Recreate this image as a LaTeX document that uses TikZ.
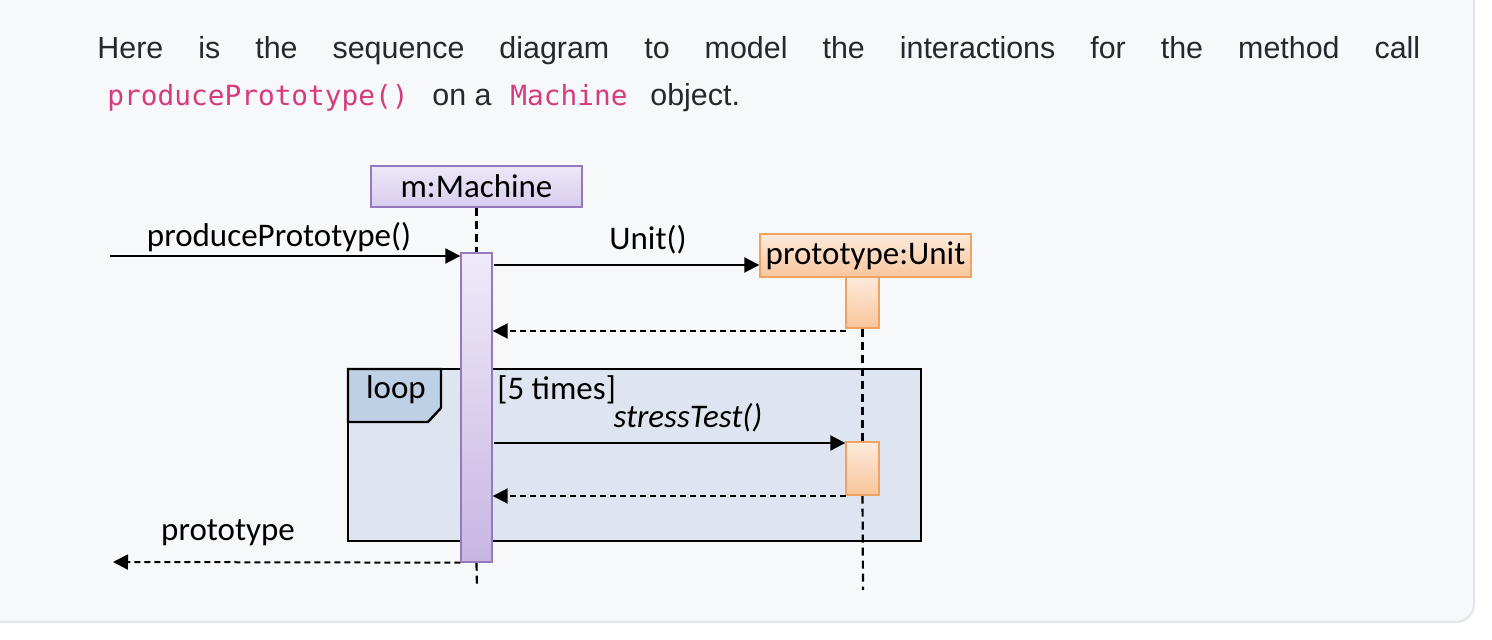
\documentclass[tikz,border=0pt]{standalone}
\usepackage{fontspec}
\setmainfont{Liberation Sans}
\newfontfamily\diafont{Carlito}
\newfontfamily\codefont{DejaVu Sans Mono}
\usetikzlibrary{arrows.meta}
\definecolor{pagebg}{HTML}{F6F8FA}
\definecolor{pageedge}{HTML}{E3E6EA}
\definecolor{txt}{HTML}{24292E}
\definecolor{codepink}{HTML}{D63B7E}
\definecolor{mtop}{HTML}{EDE7F7}
\definecolor{mbot}{HTML}{D9CCEE}
\definecolor{medge}{HTML}{9479BD}
\definecolor{atop}{HTML}{EFEAF9}
\definecolor{abot}{HTML}{C8B6E3}
\definecolor{utop}{HTML}{FDEADC}
\definecolor{ubot}{HTML}{F8C59B}
\definecolor{uedge}{HTML}{F0A262}
\definecolor{loopfill}{HTML}{DEE5F0}
\definecolor{tagfill}{HTML}{BED0E5}
\tikzset{
  x=0.5pt, y=-0.5pt,
  dia/.style={font=\diafont\fontsize{16.5pt}{18pt}\selectfont, inner sep=0pt},
  objbox/.style={draw=medge, line width=0.7pt, top color=mtop, bottom color=mbot, minimum width=105.5pt, minimum height=20.5pt, dia},
  actbar/.style={draw=medge, line width=0.7pt, top color=atop, bottom color=abot, minimum width=15.5pt, inner sep=0pt},
  unitbox/.style={draw=uedge, line width=0.7pt, top color=utop, bottom color=ubot, minimum width=105.5pt, minimum height=21.5pt, dia},
  uact/.style={draw=uedge, line width=0.7pt, top color=utop, bottom color=ubot, minimum width=16.5pt, inner sep=0pt},
  life/.style={line width=1.1pt, dash pattern=on 4pt off 2.5pt},
  msg/.style={line width=1pt, -{Triangle[length=7.5pt, width=7.5pt]}},
  ret/.style={line width=1pt, dash pattern=on 3pt off 2pt, -{Triangle[length=7.5pt, width=7.5pt]}},
  lbl/.style={dia},
  head/.style={anchor=base west, inner sep=0pt, text=txt, font=\fontsize{15.2pt}{18pt}\selectfont},
  code/.style={anchor=base west, inner sep=0pt, text=codepink, font=\codefont\fontsize{13.9pt}{18pt}\selectfont},
}
\begin{document}
\begin{tikzpicture}
\useasboundingbox (0,0) rectangle (1492,640);
\fill[white] (0,0) rectangle (1492,640);
\draw[pageedge, fill=pagebg, line width=1pt, rounded corners=9pt] (-20,-20) rectangle (1474,622);

% header text
\node[head] (l1) at (97,59)
  {\makebox[661.5pt][s]{Here is the sequence diagram to model the interactions for the method call}};
\node[code] (c1) at (107,106) {producePrototype()};
\node[head] (ona) at (432,106) {on a};
\node[code] (c2) at (510,106) {Machine};
\node[head] (obj) at (650,106) {object.};

% loop frame
\draw[line width=1.2pt, fill=loopfill] (348,369) rectangle (921,541);
\draw[line width=1.2pt, fill=tagfill] (348,369) -- (441,369) -- (441,408) -- (428,422) -- (348,422) -- cycle;
\node[lbl] (loop) at (396,390) {loop};
\node[lbl, anchor=west] (guard) at (497,390) {[5 times]};

% objects
\node[objbox] (mbox) at (476.5,186.5) {m:Machine};
\node[actbar, minimum height=154.5pt] (mact) at (476.5,407.5) {};
\node[unitbox] (ubox) at (865.5,255.5) {prototype:Unit};
\node[uact, minimum height=25.5pt] (ua1) at (862.5,302.5) {};
\node[uact, minimum height=26.5pt] (ua2) at (862.5,468.5) {};

% lifelines
\coordinate (mend) at (477,588);
\coordinate (uend) at (863,590);
\draw[life] (mbox.south -| mact.north) -- (mact.north);
\draw[life] (mact.south) -- (mend);
\draw[life] (ua1.south) -- (ua2.north);
\draw[life] (ua2.south) -- (uend);
\node[actbar, minimum height=154.5pt] at (mact) {};
\node[uact, minimum height=26.5pt] at (ua2) {};

% messages
\coordinate (start) at (110,256);
\draw[msg] (start) -- (start -| mact.west);
\node[lbl] (pp) at (279,237) {producePrototype()};

\coordinate (u1) at (494,265);
\draw[msg] (u1) -- (u1 -| ubox.west);
\node[lbl] (unitlbl) at (648,240) {Unit()};

\coordinate (r1) at (846,331);
\draw[ret] (r1) -- (r1 -| mact.east);

\coordinate (s1) at (494,443);
\draw[msg] (s1) -- (s1 -| ua2.west);
\node[lbl, font=\diafont\itshape\fontsize{16.5pt}{18pt}\selectfont] (st) at (688,418) {stressTest()};

\coordinate (r2) at (846,496);
\draw[ret] (r2) -- (r2 -| mact.east);

\coordinate (pend) at (113,562);
\draw[ret] (mact.south west) -- (pend);
\node[lbl] (plbl) at (228,533) {prototype};
\end{tikzpicture}
\end{document}
